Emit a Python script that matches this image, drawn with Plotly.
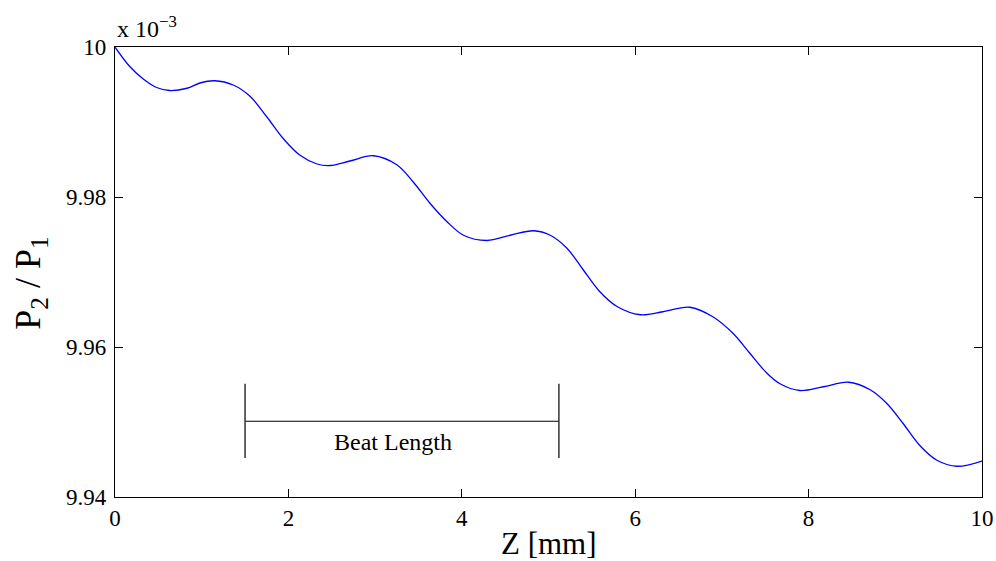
import plotly.graph_objects as go

# Data (P2/P1 in units of 1e-3)
z_mm = [0.00, 0.17, 0.33, 0.48, 0.63, 0.83, 0.98, 1.15, 1.37, 1.56, 1.75, 1.94,
        2.13, 2.33, 2.48, 2.71, 2.98, 3.25, 3.44, 3.63, 3.83, 4.02, 4.29, 4.56,
        4.83, 5.02, 5.21, 5.40, 5.59, 5.79, 6.06, 6.32, 6.63, 6.90, 7.13, 7.32,
        7.52, 7.67, 7.90, 8.17, 8.46, 8.71, 8.90, 9.09, 9.28, 9.48, 9.71, 10.0]
p_ratio = [10.0000, 9.9974, 9.9957, 9.9946, 9.9942, 9.9945, 9.9952, 9.9955,
           9.9949, 9.9934, 9.9907, 9.9878, 9.9856, 9.9844, 9.9842, 9.9848,
           9.9855, 9.9843, 9.9820, 9.9792, 9.9767, 9.9749, 9.9742, 9.9749,
           9.9755, 9.9749, 9.9732, 9.9703, 9.9674, 9.9654, 9.9643, 9.9647,
           9.9653, 9.9640, 9.9618, 9.9592, 9.9565, 9.9551, 9.9542, 9.9547,
           9.9553, 9.9543, 9.9525, 9.9498, 9.9469, 9.9449, 9.9441, 9.9448]

x_ticks = [0, 2, 4, 6, 8, 10]
x_ticklabels = ["0", "2", "4", "6", "8", "10"]
y_ticks = [9.94, 9.96, 9.98, 10.0]
y_ticklabels = ["9.94", "9.96", "9.98", "10"]

x_title = "Z [mm]"
y_title = "P<sub>2</sub> / P<sub>1</sub>"
y_multiplier = "x 10<sup>−3</sup>"

# Beat length marker (data coordinates)
beat_start = 1.50
beat_end = 5.12
beat_y = 9.9501
beat_y_low = 9.9452
beat_y_high = 9.9551
beat_label = "Beat Length"
beat_label_x = 3.21
beat_label_y = 9.9474

FONT = "Liberation Serif, Times New Roman, serif"

fig = go.Figure()
fig.add_trace(go.Scatter(x=z_mm, y=p_ratio, mode="lines",
                         line=dict(color="#0000ff", width=1.3, shape="spline", smoothing=1.0),
                         showlegend=False, hoverinfo="skip"))

# Beat length bracket
fig.add_trace(go.Scatter(x=[beat_start, beat_end], y=[beat_y, beat_y], mode="lines",
                         line=dict(color="black", width=1.2), showlegend=False, hoverinfo="skip"))
fig.add_trace(go.Scatter(x=[beat_start, beat_start], y=[beat_y_low, beat_y_high], mode="lines",
                         line=dict(color="#333333", width=1.5), showlegend=False, hoverinfo="skip"))
fig.add_trace(go.Scatter(x=[beat_end, beat_end], y=[beat_y_low, beat_y_high], mode="lines",
                         line=dict(color="#333333", width=1.5), showlegend=False, hoverinfo="skip"))

fig.add_annotation(x=beat_label_x, y=beat_label_y, xref="x", yref="y", text=beat_label,
                   showarrow=False, font=dict(family=FONT, size=24, color="black"))

fig.add_annotation(x=0, y=1.045, xref="paper", yref="paper", xanchor="left", yanchor="middle",
                   text=y_multiplier, showarrow=False,
                   font=dict(family=FONT, size=24, color="black"))

# Axis titles placed as annotations for exact positioning
fig.add_annotation(x=0.5, y=-0.104, xref="paper", yref="paper", xanchor="center", yanchor="middle",
                   text=x_title, showarrow=False,
                   font=dict(family=FONT, size=31, color="black"))
fig.add_annotation(x=-0.097, y=0.476, xref="paper", yref="paper", xanchor="center", yanchor="middle",
                   text=y_title, textangle=-90, showarrow=False,
                   font=dict(family=FONT, size=36, color="black"))

axis_common = dict(showline=True, linecolor="black", linewidth=1.3, mirror="ticks",
                   ticks="inside", ticklen=8, tickwidth=1, tickcolor="black",
                   showgrid=False, zeroline=False,
                   tickfont=dict(family=FONT, size=23, color="black"))

fig.update_xaxes(range=[0, 10], tickmode="array", tickvals=x_ticks, ticktext=x_ticklabels,
                 **axis_common)
fig.update_yaxes(range=[9.94, 10.0], tickmode="array", tickvals=y_ticks, ticktext=y_ticklabels,
                 ticklabelstandoff=3, **axis_common)

fig.update_layout(width=996, height=561, margin=dict(l=115, r=14, t=47, b=64, autoexpand=False),
                  plot_bgcolor="white", paper_bgcolor="white",
                  font=dict(family=FONT, color="black"))

fig.write_html("out.html", config={"displayModeBar": False},
               post_script="document.body.style.margin='0';")
